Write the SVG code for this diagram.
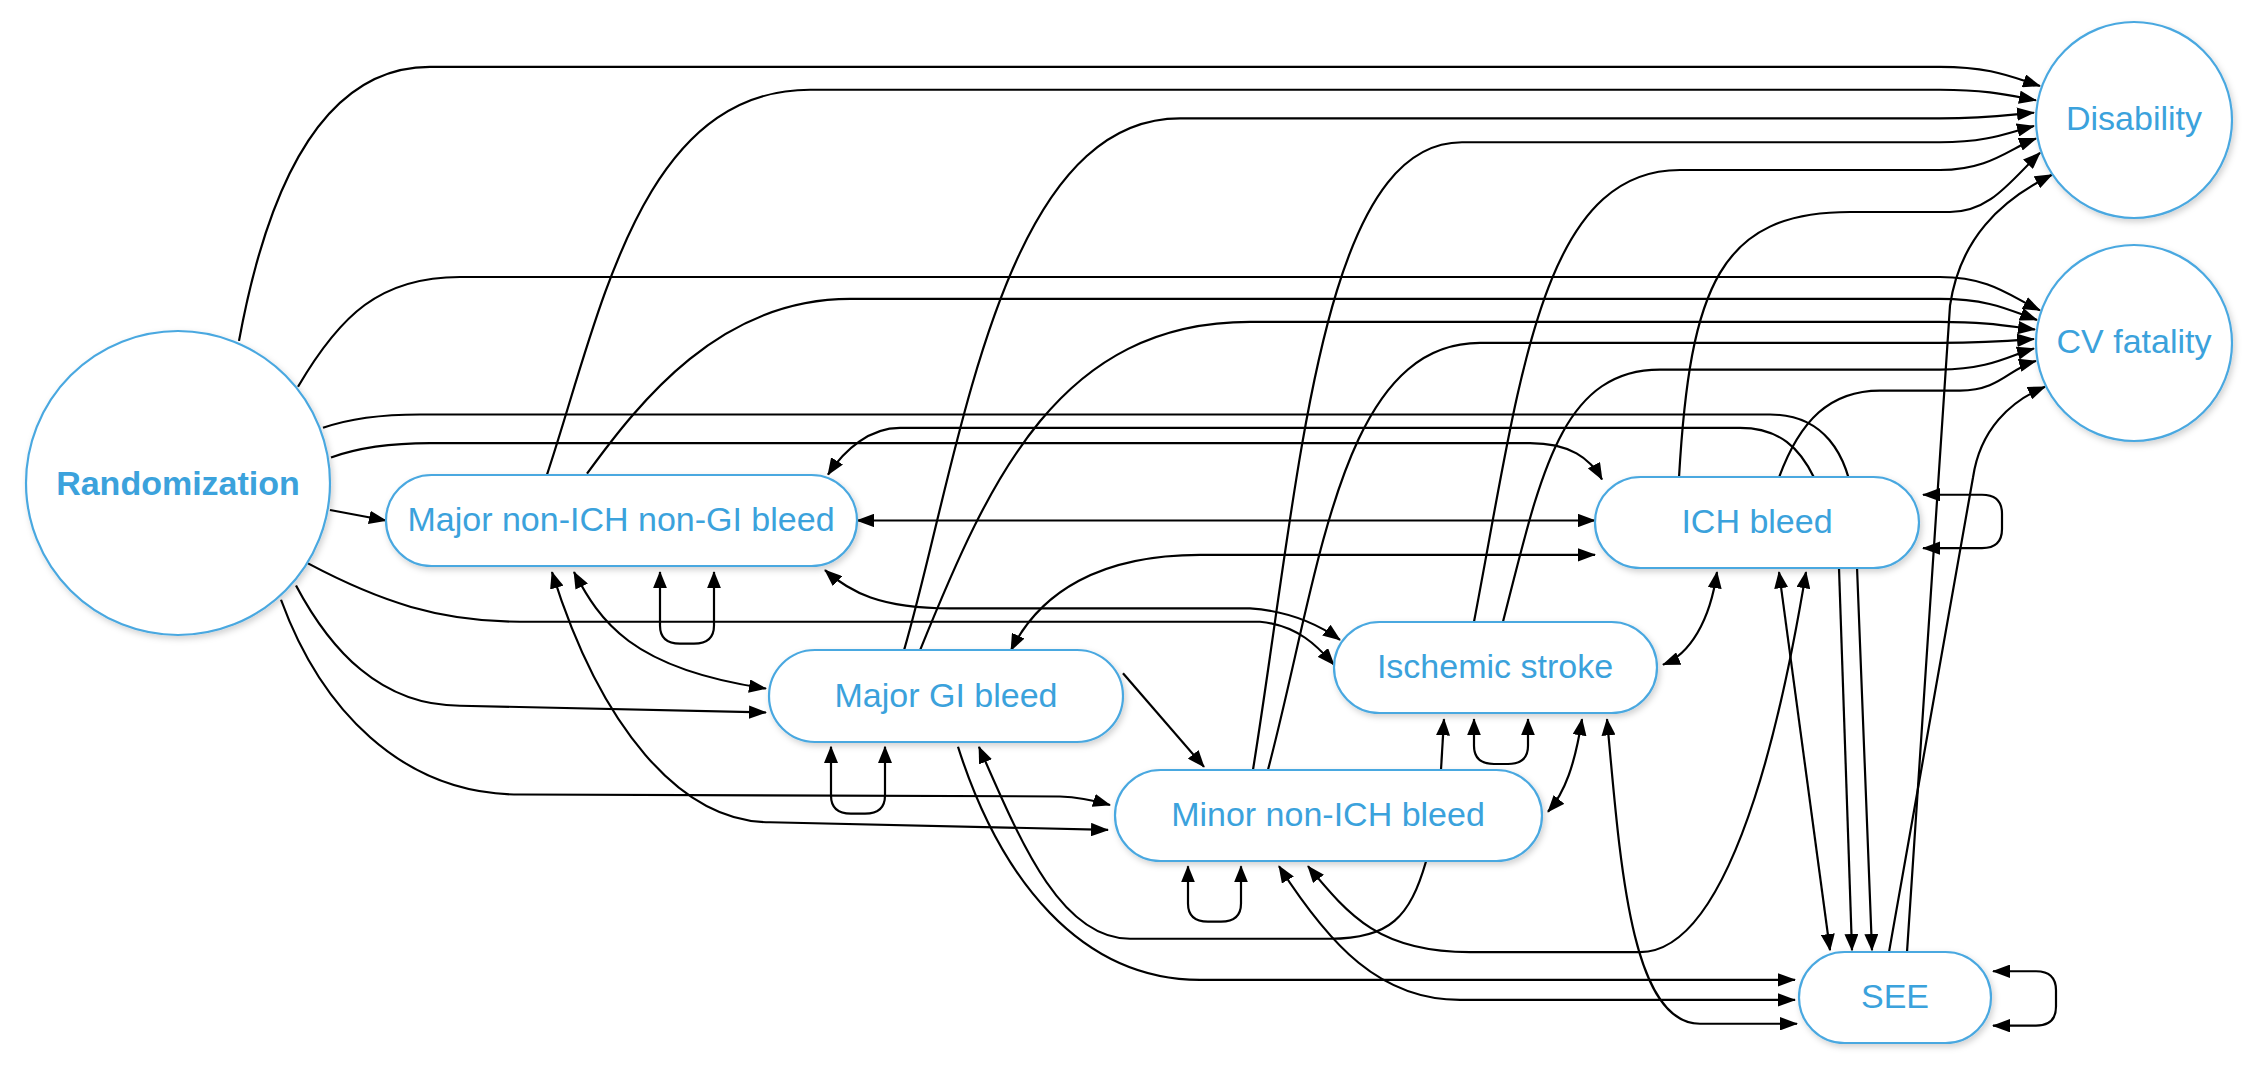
<svg xmlns="http://www.w3.org/2000/svg" width="2250" height="1072" viewBox="0 0 2250 1072">
<defs>
<marker id="ah" markerUnits="userSpaceOnUse" markerWidth="18" markerHeight="14" refX="17" refY="7" orient="auto-start-reverse"><path d="M0,0 L18,7 L0,14 z" fill="#000"/></marker>
<filter id="sh" x="-10%" y="-10%" width="130%" height="130%"><feDropShadow dx="2" dy="3" stdDeviation="3" flood-color="#000" flood-opacity="0.18"/></filter>
</defs>
<style>
.e{fill:none;stroke:#000;stroke-width:2.2;marker-end:url(#ah)}
.d{marker-start:url(#ah)}
.n{fill:#fff;stroke:#4aa8e0;stroke-width:2.2;filter:url(#sh)}
.t{font-family:"Liberation Sans",Arial,sans-serif;font-size:34px;fill:#3ba2dc;text-anchor:middle;dominant-baseline:central}
</style>
<rect width="2250" height="1072" fill="#fff"/>
<g id="connectors" transform="scale(1,0.955)">
<path class="e" d="M239,357 C270,180 330,70 430,70 L1940,70 C1990,70 2010,80 2040,90"/>
<path class="e" d="M547,497 C600,330 640,94 810,94 L1940,94 C1990,94 2010,100 2036,105"/>
<path class="e" d="M904,681 C960,480 1000,124 1180,124 L1940,124 C1990,124 2010,120 2034,118"/>
<path class="e" d="M1253,806 C1300,500 1320,149 1462,149 L1940,149 C1990,149 2010,138 2034,132"/>
<path class="e" d="M1474,651 C1520,400 1540,178 1680,178 L1940,178 C1990,178 2010,155 2036,145"/>
<path class="e" d="M1679,500 C1690,300 1720,222 1850,222 L1950,222 C1990,222 2010,190 2040,160"/>
<path class="e" d="M1907,997 L1950,320 C1960,250 2000,210 2052,183"/>
<path class="e" d="M298,405 C340,330 380,290 460,290 L1940,290 C1990,290 2010,310 2040,325"/>
<path class="e" d="M587,496 C640,420 720,313 850,313 L1940,313 C1990,313 2010,325 2037,335"/>
<path class="e" d="M920,681 C990,500 1060,337 1250,337 L1940,337 C1990,337 2010,342 2035,345"/>
<path class="e" d="M1268,806 C1320,600 1340,359 1480,359 L1940,359 C1990,359 2010,357 2034,355"/>
<path class="e" d="M1503,651 C1540,500 1560,387 1660,387 L1940,387 C1990,387 2010,372 2034,365"/>
<path class="e" d="M1779,500 C1800,440 1830,409 1880,409 L1960,409 C2000,409 2010,385 2036,378"/>
<path class="e" d="M1889,997 L1973,500 C1980,450 2010,420 2045,405"/>
<path class="e" d="M331,479 C360,468 390,464 430,464 L1530,464 C1570,464 1590,480 1602,502"/>
<path class="e" d="M323,448 C350,438 380,434 420,434 L1770,434 C1820,434 1850,470 1855,540 L1872,995"/>
<path class="e" d="M1814,500 C1800,470 1780,448 1740,448 L900,448 C870,448 845,470 828,497"/>
<path class="e" d="M1839,595 L1852,995"/>
<path class="e d" d="M1779,599 L1830,995"/>
<path class="e" d="M308,590 C380,630 440,651 520,651 L1260,651 C1300,655 1320,680 1334,696"/>
<path class="e d" d="M825,597 C850,620 880,637 950,637 L1250,637 C1290,640 1320,655 1340,670"/>
<path class="e" d="M296,613 C330,680 380,739 460,739 L766,746"/>
<path class="e d" d="M574,599 C600,650 630,700 766,721"/>
<path class="e" d="M281,628 C320,740 400,832 520,832 L1060,834 C1085,835 1100,840 1110,843"/>
<path class="e d" d="M552,599 C600,760 680,861 770,861 L1108,869"/>
<path class="e d" d="M660,599 L660,655 Q660,674 680,674 L694,674 Q714,674 714,655 L714,599"/>
<path class="e d" d="M831,782 L831,833 Q831,852 851,852 L865,852 Q885,852 885,833 L885,782"/>
<path class="e d" d="M1188,907 L1188,946 Q1188,965 1208,965 L1221,965 Q1241,965 1241,946 L1241,907"/>
<path class="e d" d="M1474,753 L1474,781 Q1474,800 1494,800 L1508,800 Q1528,800 1528,781 L1528,753"/>
<path class="e d" d="M1923,518 L1982,518 Q2002,518 2002,538 L2002,554 Q2002,574 1982,574 L1923,574"/>
<path class="e d" d="M1993,1017 L2036,1017 Q2056,1017 2056,1037 L2056,1054 Q2056,1074 2036,1074 L1993,1074"/>
<path class="e d" d="M857,545 L1595,545"/>
<path class="e d" d="M1011,681 C1040,620 1100,581 1200,581 L1595,581"/>
<path class="e" d="M1123,705 L1204,803"/>
<path class="e" d="M330,534 L386,545"/>
<path class="e" d="M958,782 C1000,920 1080,1026 1200,1026 L1795,1026"/>
<path class="e" d="M1426,902 C1410,960 1390,983 1330,983 L1130,983 C1060,983 1020,880 979,782"/>
<path class="e d" d="M1279,907 C1330,990 1380,1047 1460,1047 L1795,1047"/>
<path class="e d" d="M1607,753 C1620,900 1630,1072 1700,1072 L1797,1072"/>
<path class="e d" d="M1308,907 C1350,960 1380,997 1470,997 L1640,997 C1740,997 1790,700 1806,599"/>
<path class="e" d="M1441,806 L1444,753"/>
<path class="e d" d="M1582,753 C1575,800 1565,830 1548,850"/>
<path class="e d" d="M1717,599 C1710,650 1690,685 1663,696"/>
</g>
<g id="randomization"><circle class="n" cx="178" cy="483" r="152"/><text class="t" x="178" y="483" font-weight="bold">Randomization</text></g>
<g id="disability"><circle class="n" cx="2134" cy="120" r="98"/><text class="t" x="2134" y="118">Disability</text></g>
<g id="cv-fatality"><circle class="n" cx="2134" cy="343" r="98"/><text class="t" x="2134" y="341">CV fatality</text></g>
<g id="major-non-ich"><rect class="n" x="386" y="475" width="471" height="91" rx="45.5"/><text class="t" x="621" y="519">Major non-ICH non-GI bleed</text></g>
<g id="major-gi"><rect class="n" x="769" y="650" width="354" height="92" rx="46"/><text class="t" x="946" y="695">Major GI bleed</text></g>
<g id="minor"><rect class="n" x="1115" y="770" width="427" height="91" rx="45.5"/><text class="t" x="1328" y="814">Minor non-ICH bleed</text></g>
<g id="ischemic"><rect class="n" x="1334" y="622" width="323" height="91" rx="45.5"/><text class="t" x="1495" y="666">Ischemic stroke</text></g>
<g id="ich"><rect class="n" x="1595" y="477" width="324" height="91" rx="45.5"/><text class="t" x="1757" y="521">ICH bleed</text></g>
<g id="see"><rect class="n" x="1799" y="952" width="192" height="91" rx="45.5"/><text class="t" x="1895" y="996">SEE</text></g>
</svg>
